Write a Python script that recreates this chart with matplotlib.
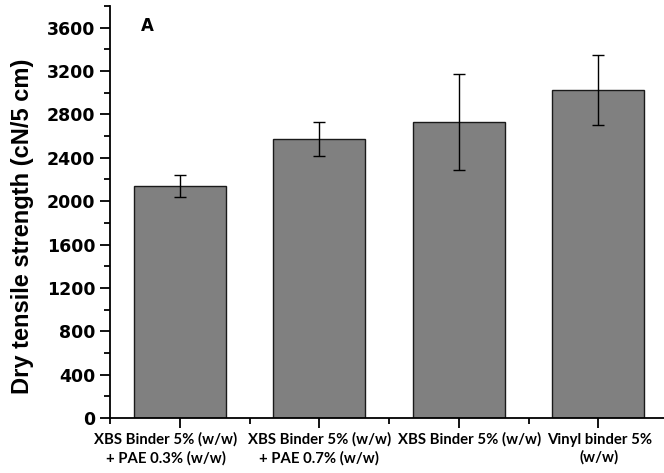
import matplotlib
matplotlib.use("Agg")
import matplotlib.pyplot as plt
from matplotlib.ticker import MultipleLocator, FixedLocator
from matplotlib.transforms import ScaledTranslation
import numpy as np

categories = [
    "XBS Binder 5% (w/w)\n+ PAE 0.3% (w/w)",
    "XBS Binder 5% (w/w)\n+ PAE 0.7% (w/w)",
    "XBS Binder 5% (w/w)",
    "Vinyl binder 5%\n(w/w)",
]
strength = [2140, 2570, 2730, 3025]
strength_err = [105, 157, 445, 322]
y_ticks = list(range(0, 3601, 400))

fig = plt.figure(figsize=(6.64, 4.73), dpi=100)
ax = fig.add_axes([110 / 664, 55 / 473, 558 / 664, 412 / 473])

x = np.arange(1, len(categories) + 1)
ax.bar(x, strength, width=0.66, color="#808080", edgecolor="#1a1a1a", linewidth=1.0, zorder=2)
ax.errorbar(x, strength, yerr=strength_err, fmt="none", ecolor="black",
            elinewidth=1.0, capsize=4, capthick=1.0, zorder=3)

ax.set_xlim(0.5, 4.5)
ax.set_ylim(0, 3800)
ax.yaxis.set_major_locator(FixedLocator(y_ticks))
ax.yaxis.set_minor_locator(MultipleLocator(200))
ax.set_xticks(x)
ax.xaxis.set_minor_locator(FixedLocator(np.arange(0.5, 4.6, 1.0)))

ax.spines["top"].set_visible(False)
ax.spines["right"].set_visible(False)
for s in ("left", "bottom"):
    ax.spines[s].set_linewidth(1.3)

ax.tick_params(axis="both", which="major", direction="out", length=7, width=1.3)
ax.tick_params(axis="both", which="minor", direction="out", length=4, width=1.3)
ax.tick_params(axis="x", which="major", pad=3.5)

ax.set_yticklabels([str(v) for v in y_ticks],
                   fontsize=12.5, fontweight="bold", family="DejaVu Sans")
ax.set_xticklabels(categories, fontsize=10.7, fontweight="bold",
                   family=["Lato", "DejaVu Sans"], linespacing=1.32)

# nudge the wide category labels apart so neighbours do not collide
label_shift_px = [-14, 0, 11, 1]
for lbl, dx in zip(ax.get_xticklabels(), label_shift_px):
    lbl.set_transform(lbl.get_transform() + ScaledTranslation(dx / 100, 0, fig.dpi_scale_trans))

fig.text(23 / 664, 1 - 226 / 473, "Dry tensile strength (cN/5 cm)", rotation=90,
         ha="center", va="center", fontsize=17, fontweight="bold", family="Liberation Sans")

fig.text(147 / 664, 1 - 26 / 473, "A", ha="center", va="center",
         fontsize=12, fontweight="bold", family="DejaVu Sans")

fig.savefig("out.png", dpi=100)
